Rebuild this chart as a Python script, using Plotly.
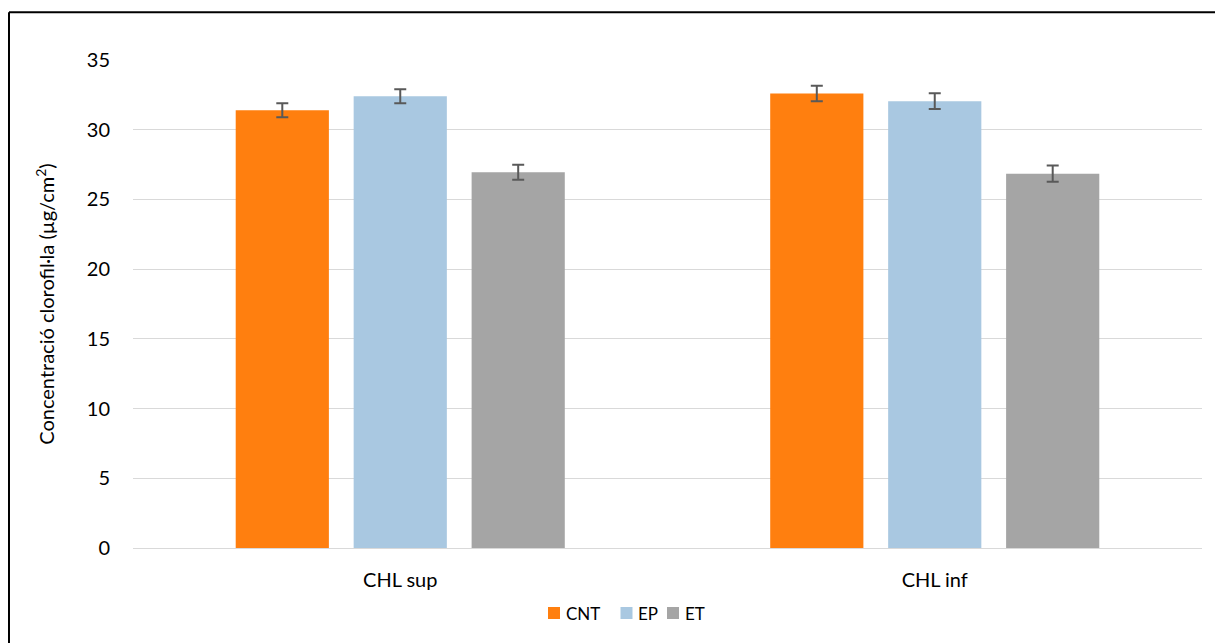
import plotly.graph_objects as go

categories = ["CHL sup", "CHL inf"]
series = ["CNT", "EP", "ET"]
values = {
    "CNT": [31.4, 32.6],
    "EP": [32.4, 32.05],
    "ET": [26.95, 26.85],
}
errors = {
    "CNT": [0.5, 0.55],
    "EP": [0.5, 0.56],
    "ET": [0.53, 0.58],
}
colors = {"CNT": "#FF7F0F", "EP": "#A9C8E1", "ET": "#A5A5A5"}

fig = go.Figure()
for s in series:
    fig.add_trace(go.Bar(
        name=s, x=categories, y=values[s], marker_color=colors[s],
        marker_line_width=0, showlegend=False,
        error_y=dict(type="data", array=errors[s], color="#595959", thickness=2, width=6),
    ))

# plot area geometry (figure pixels)
L, R, T, B, W, H = 125, 29, 52, 103, 1223, 643
PW = W - L - R
PH = H - T - B


def px_x(x):
    return (x - L) / PW


def px_y(y):
    return (H - B - y) / PH


# manual legend (Excel-like compact layout)
legend_square_left = {"CNT": 540, "EP": 612.5, "ET": 659}
legend_text_left = {"CNT": 557, "EP": 629, "ET": 676}
sq = 12
ly = 605
shapes = [
    dict(type="line", xref="paper", yref="paper", x0=-0.116, x1=1.2, y0=1.098, y1=1.098,
         line=dict(color="black", width=2)),
    dict(type="line", xref="paper", yref="paper", x0=-0.116, x1=-0.116, y0=1.098, y1=-0.3,
         line=dict(color="black", width=2)),
]
annotations = []
for s in series:
    x0 = legend_square_left[s]
    shapes.append(dict(type="rect", xref="paper", yref="paper",
                       x0=px_x(x0), x1=px_x(x0 + sq), y0=px_y(ly - sq / 2), y1=px_y(ly + sq / 2),
                       fillcolor=colors[s], line=dict(width=0)))
    annotations.append(dict(text=s, xref="paper", yref="paper", x=px_x(legend_text_left[s]),
                            y=px_y(ly), xanchor="left", yanchor="middle", showarrow=False,
                            font=dict(size=17), borderpad=0))

font_family = "Lato, 'Open Sans', sans-serif"
fig.update_layout(
    width=W, height=H,
    margin=dict(l=L, r=R, t=T, b=B),
    paper_bgcolor="white", plot_bgcolor="white",
    barmode="group", bargap=0.338, bargroupgap=0.21,
    font=dict(family=font_family, size=20, color="#000000"),
    showlegend=False,
    yaxis=dict(range=[0, 35], dtick=5, showgrid=True, gridcolor="#D9D9D9", gridwidth=1,
               zeroline=False, showline=False, ticks="", ticklabelstandoff=22,
               title=dict(text="Concentració clorofil·la (µg/cm<sup>2</sup>)", font=dict(size=20), standoff=26)),
    xaxis=dict(showline=True, linecolor="#D9D9D9", linewidth=1, ticks="", showgrid=False,
               ticklabelstandoff=14),
    shapes=shapes,
    annotations=annotations,
)
fig.write_html("out.html")
